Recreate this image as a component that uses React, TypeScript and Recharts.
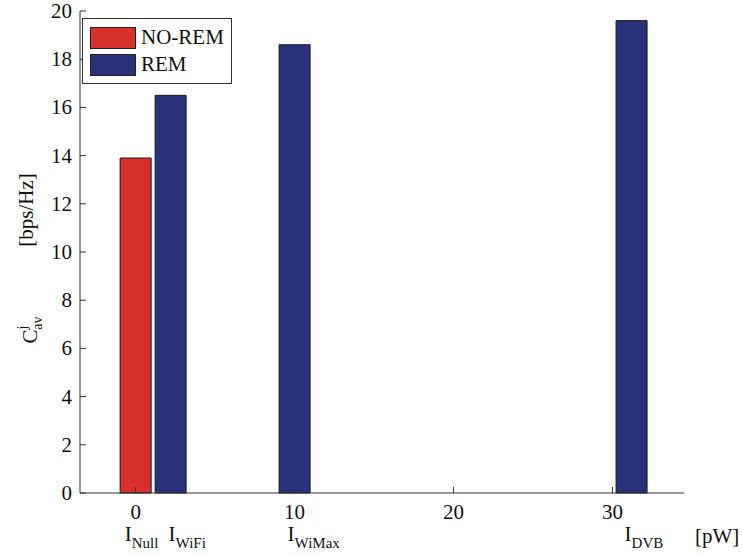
import { Bar, BarChart, Cell, Legend, XAxis, YAxis } from "recharts";

const positions = [0, 2.2, 10, 31.2];
const groups = ["NO-REM", "REM", "REM", "REM"];
const values = [13.9, 16.5, 18.6, 19.6];
const sourceNames = ["Null", "WiFi", "WiMax", "DVB"];
const xTicks = [0, 10, 20, 30];
const yTicks = [0, 2, 4, 6, 8, 10, 12, 14, 16, 18, 20];
const legendNames = ["NO-REM", "REM"];

const colors: Record<string, string> = {
  "NO-REM": "#d8302a",
  REM: "#28327c",
};

const FONT = "'Liberation Serif', 'Times New Roman', serif";
const AXIS = "#333333";
const TICK_LEN = 6;
// small horizontal nudges so the first two source names don't collide
const nameNudge = [-11, -2, -7, -7];

const data = positions.map((x, i) => ({ x, value: values[i], group: groups[i] }));

function BottomTick({ x, y, payload }: any) {
  return (
    <g>
      <line x1={x} x2={x} y1={y} y2={y - TICK_LEN} stroke={AXIS} />
      <text x={x} y={y + 26} textAnchor="middle" fontFamily={FONT} fontSize={21} fill="#111">
        {payload.value}
      </text>
    </g>
  );
}

function TopTick({ x, y }: any) {
  return <line x1={x} x2={x} y1={y} y2={y + TICK_LEN} stroke={AXIS} />;
}

function LeftTick({ x, y, payload }: any) {
  return (
    <g>
      <line x1={x} x2={x + TICK_LEN} y1={y} y2={y} stroke={AXIS} />
      <text x={x - 8} y={y + 7} textAnchor="end" fontFamily={FONT} fontSize={21} fill="#111">
        {payload.value}
      </text>
    </g>
  );
}

function RightTick({ x, y }: any) {
  return <line x1={x} x2={x - TICK_LEN} y1={y} y2={y} stroke={AXIS} />;
}

function NameTick({ x, y, payload }: any) {
  const i = positions.indexOf(payload.value);
  if (i < 0) return null;
  return (
    <text x={x + nameNudge[i]} y={y + 18} fontFamily={FONT} fontSize={21} fill="#111">
      I
      <tspan dy={7} fontSize={15}>
        {sourceNames[i]}
      </tspan>
    </text>
  );
}

function UnitLabel({ viewBox }: any) {
  return (
    <text
      x={viewBox.x + viewBox.width + 11}
      y={viewBox.y + 20}
      fontFamily={FONT}
      fontSize={21}
      fill="#111"
    >
      [pW]
    </text>
  );
}

function YLabel({ viewBox }: any) {
  const bx = viewBox.x + 33;
  const by1 = 210;
  const cx = viewBox.x + 37;
  const by2 = 330;
  return (
    <g fontFamily={FONT} fill="#111">
      <text x={bx} y={by1} fontSize={21} textAnchor="middle" transform={`rotate(-90 ${bx} ${by1})`}>
        [bps/Hz]
      </text>
      <text x={cx} y={by2} fontSize={21} textAnchor="middle" transform={`rotate(-90 ${cx} ${by2})`}>
        C
        <tspan fontSize={14} dy={-10}>
          j
        </tspan>
        <tspan fontSize={14} dx={-4} dy={15}>
          av
        </tspan>
      </text>
    </g>
  );
}

function LegendBox() {
  return (
    <div
      style={{
        width: 148,
        height: 59,
        border: `1px solid ${AXIS}`,
        background: "#fff",
        paddingTop: 5,
        boxSizing: "content-box",
        fontFamily: FONT,
        fontSize: 21,
        color: "#111",
      }}
    >
      {legendNames.map((name) => (
        <div key={name} style={{ display: "flex", alignItems: "center", height: 27 }}>
          <div
            style={{
              width: 44,
              height: 20,
              marginLeft: 7,
              marginRight: 5,
              background: colors[name],
              border: "1px solid #222",
            }}
          />
          <span style={{ lineHeight: "21px" }}>{name}</span>
        </div>
      ))}
    </div>
  );
}

export default function App() {
  return (
    <div style={{ position: "absolute", left: 0, top: 0, background: "#fff" }}>
      <BarChart
        width={742}
        height={555}
        data={data}
        margin={{ top: 11, right: 58, bottom: 0, left: 0 }}
      >
        <XAxis
          dataKey="x"
          type="number"
          domain={[-3.5, 34.5]}
          allowDataOverflow
          ticks={xTicks}
          height={30}
          tickSize={0}
          tickMargin={0}
          tickLine={false}
          stroke={AXIS}
          tick={<BottomTick />}
          interval={0}
        />
        <XAxis
          xAxisId="names"
          dataKey="x"
          type="number"
          domain={[-3.5, 34.5]}
          allowDataOverflow
          ticks={positions}
          height={32}
          tickSize={0}
          tickMargin={0}
          tickLine={false}
          axisLine={false}
          tick={<NameTick />}
          interval={0}
          label={(props: any) => <UnitLabel viewBox={props.viewBox} />}
        />
        <XAxis
          xAxisId="top"
          orientation="top"
          dataKey="x"
          type="number"
          domain={[-3.5, 34.5]}
          allowDataOverflow
          ticks={xTicks}
          height={0}
          tickSize={0}
          tickMargin={0}
          tickLine={false}
          stroke={AXIS}
          tick={<TopTick />}
          interval={0}
        />
        <YAxis
          type="number"
          domain={[0, 20]}
          ticks={yTicks}
          width={80}
          tickSize={0}
          tickMargin={0}
          tickLine={false}
          stroke={AXIS}
          tick={<LeftTick />}
          interval={0}
          label={(props: any) => <YLabel viewBox={props.viewBox} />}
        />
        <YAxis
          yAxisId="right"
          orientation="right"
          type="number"
          domain={[0, 20]}
          ticks={yTicks}
          width={0}
          tickSize={0}
          tickMargin={0}
          tickLine={false}
          stroke={AXIS}
          tick={<RightTick />}
          interval={0}
        />
        <Legend
          layout="horizontal"
          verticalAlign="middle"
          align="center"
          wrapperStyle={{ position: "absolute", left: 82, top: 18, width: "auto", height: "auto" }}
          content={() => <LegendBox />}
        />
        <Bar dataKey="value" barSize={31} stroke="#1a1a1a" strokeWidth={1} isAnimationActive={false}>
          {data.map((d, i) => (
            <Cell key={i} fill={colors[d.group]} />
          ))}
        </Bar>
      </BarChart>
    </div>
  );
}
